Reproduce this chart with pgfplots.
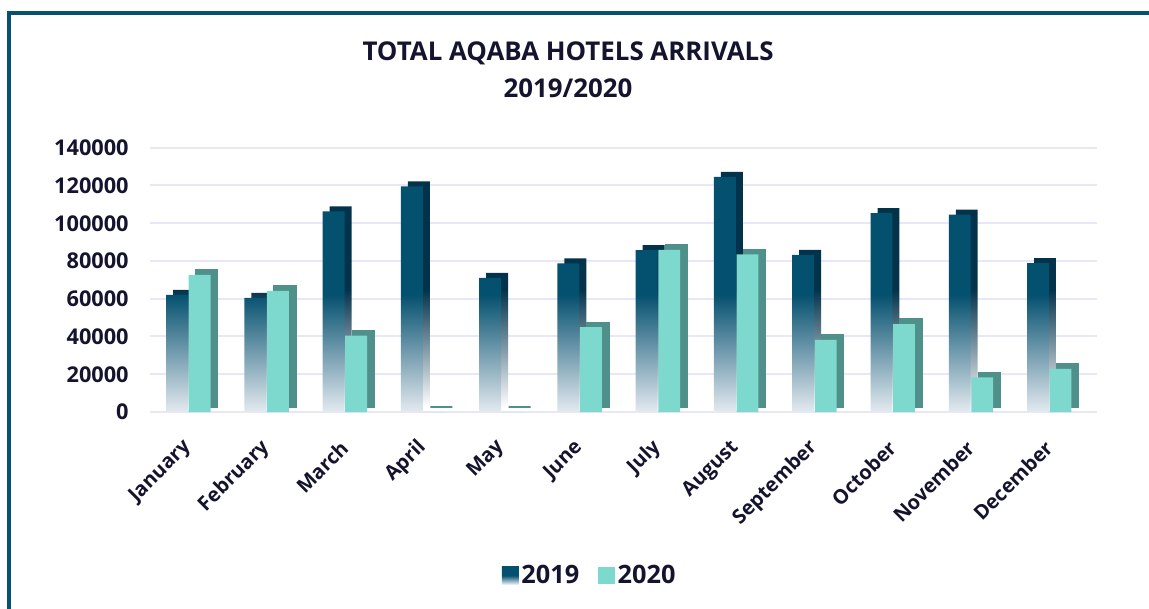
\documentclass[border=0pt]{standalone}
\usepackage{fontspec}
\setmainfont{Open Sans}
\usepackage{pgfplots}
\pgfplotsset{compat=1.18}
\usepackage{pgfplotstable}
\definecolor{darkA}{HTML}{04506F}
\definecolor{darkSide}{HTML}{03324B}
\definecolor{fadeA}{HTML}{E4EAF0}
\definecolor{tealA}{HTML}{7DD8CD}
\definecolor{tealSide}{HTML}{50908A}
\definecolor{gridc}{HTML}{E9E7F5}
\definecolor{txt}{HTML}{14142E}
\definecolor{framec}{HTML}{07506F}
\pgfplotstableread{
idx v2019 v2020
0 62100 72700
1 60400 64200
2 106300 40400
3 119500 0
4 71100 0
5 78800 44900
6 85800 85900
7 124600 83500
8 83300 38200
9 105400 46600
10 104500 18400
11 78900 22800
}\arrivals
\begin{document}
\begin{tikzpicture}
\useasboundingbox (0pt,0pt) rectangle (861.75pt,-456.75pt);
\draw[framec, line width=3pt] (6.75pt,-456.75pt) -- (6.75pt,-9.4pt) -- (861.75pt,-9.4pt);
\node[text=txt, font=\fontsize{19.4}{27.8}\selectfont\bfseries, align=center] at (426pt,-52pt) {TOTAL AQABA HOTELS ARRIVALS\\2019/2020};
\begin{axis}[
  at={(112.5pt,-309pt)}, anchor=south west, scale only axis,
  width=710.25pt, height=198.2pt,
  xmin=-0.49, xmax=11.61, ymin=0, ymax=140000,
  axis line style={draw=none}, tick style={draw=none},
  ymajorgrids, grid style={gridc, line width=1.5pt},
  ytick={0,20000,40000,60000,80000,100000,120000,140000},
  yticklabels={0,20000,40000,60000,80000,100000,120000,140000},
  scaled y ticks=false,
  yticklabel style={font=\fontsize{16.3}{19}\selectfont\bfseries, text=txt, xshift=-12.5pt},
  xtick={0,...,11},
  xticklabels={January,February,March,April,May,June,July,August,September,October,November,December},
  xticklabel style={rotate=45, anchor=east, font=\fontsize{15}{18}\selectfont\bfseries, text=txt, yshift=-17pt, xshift=-14pt},
  legend style={at={(0.4646,-0.6186)}, anchor=center, draw=none, fill=none, legend columns=2,
    font=\fontsize{19}{23}\selectfont\bfseries, text=txt,
    /tikz/every even column/.append style={column sep=12pt}},
  legend image code/.code={\fill[#1] (-4pt,-6.4pt) rectangle (8.75pt,6.4pt);},
]
\addplot[ybar, bar width=0.28, bar shift=-0.0546, yshift=3.75pt, draw=none, top color=darkSide, bottom color=white, middle color=darkSide, forget plot] table[x=idx,y=v2019]{\arrivals};
\addplot[ybar, bar width=0.28, bar shift=-0.144, draw=none, top color=darkA, bottom color=fadeA, middle color=darkA] table[x=idx,y=v2019]{\arrivals};
\addlegendentry{2019}
\addplot[ybar, bar width=0.28, bar shift=0.2334, yshift=3.75pt, draw=tealSide, line width=1pt, fill=tealSide, forget plot] table[x=idx,y=v2020]{\arrivals};
\addplot[ybar, bar width=0.28, bar shift=0.144, draw=none, fill=tealA] table[x=idx,y=v2020]{\arrivals};
\addlegendentry{2020}
\end{axis}
\end{tikzpicture}
\end{document}
